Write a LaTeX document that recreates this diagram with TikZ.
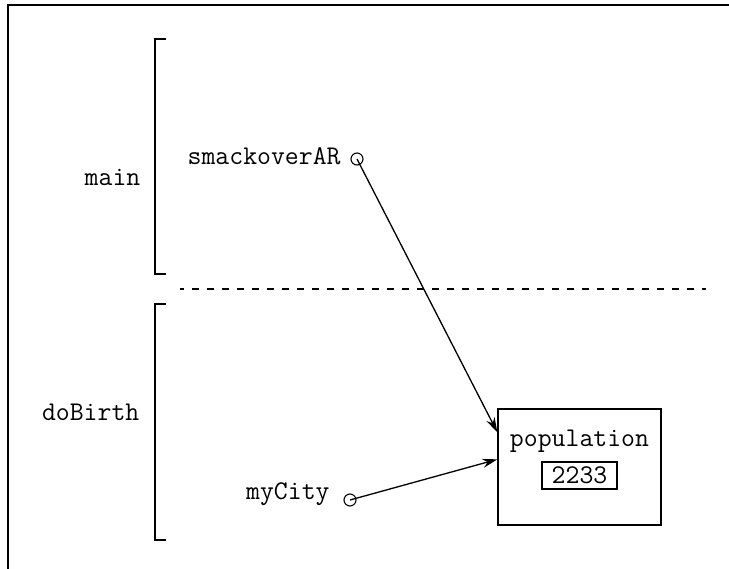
\documentclass[tikz,border=0pt]{standalone}
\usetikzlibrary{arrows.meta,calc}
\begin{document}
\begin{tikzpicture}[x=1pt,y=-1pt,line width=1.3pt,
  lbl/.style={font=\ttfamily\fontsize{27}{30}\selectfont,inner sep=0pt},
  ptr/.style={draw,circle,minimum size=12pt,inner sep=0pt,line width=1.1pt},
  arr/.style={-{Stealth[length=15pt,width=9pt]},line width=1.3pt},
  brk/.style={line width=1.5pt}]
\useasboundingbox (0,0) rectangle (729,569);
% frame
\draw[line width=2pt] (8,569) -- (8,5) -- (729,5);
% brackets
\draw[brk] (166,39) -- (155,39) -- (155,274) -- (166,274);
\draw[brk] (166,304) -- (155,304) -- (155,540) -- (166,540);
% separator
\draw[line width=1.3pt,dash pattern=on 7pt off 8pt,dash phase=3pt] (180,289) -- (706,289);
% frame labels
\node[lbl,anchor=base east] (main) at (141,186) {main};
\node[lbl,anchor=base east] (dob) at (140,421) {doBirth};
% variables
\node[lbl,anchor=base west] (sm) at (187,165) {smackoverAR};
\node[ptr] (smp) at (357,159) {};
\node[lbl,anchor=base west] (mc) at (245.5,500) {myCity};
\node[ptr] (mcp) at (350,500) {};
% object
\node[draw,minimum width=163pt,minimum height=116pt,inner sep=0pt] (obj) at (579.5,467) {};
\node[lbl,anchor=base] (pop) at (579.5,447) {population};
\node[draw,minimum width=75pt,minimum height=27pt,inner sep=0pt,line width=1.1pt] (val) at (579.5,475.5) {};
\node[lbl,anchor=base] (num) at (579.5,483) {2233};
\coordinate (t1) at ($(obj.north west)+(0,24)$);
\coordinate (t2) at ($(obj.north west)+(0,51)$);
\draw[arr] (smp.center) -- (t1);
\draw[arr] (mcp.center) -- (t2);
\end{tikzpicture}
\end{document}
